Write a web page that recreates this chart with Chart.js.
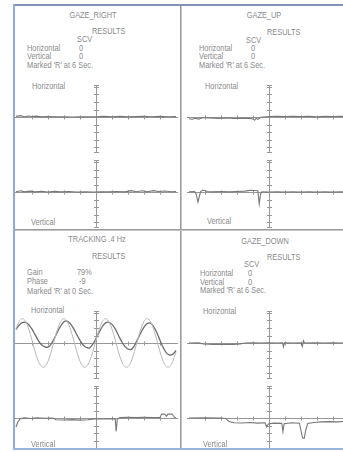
<!DOCTYPE html>
<html>
<head>
<meta charset="utf-8">
<script src="https://cdn.jsdelivr.net/npm/chart.js@4.4.1/dist/chart.umd.min.js"></script>
<style>
  html, body { margin: 0; padding: 0; background: #fff; }
  #page { position: relative; width: 343px; height: 452px; overflow: hidden; background: #fff; }
  .rule { position: absolute; }
  .t { position: absolute; font: 9px "Liberation Sans", Arial, sans-serif;
       line-height: 9px; color: #8a8a8a; white-space: nowrap;
       transform: scaleX(0.82); transform-origin: 0 50%; }
  .c { transform: translateX(-50%) scaleX(0.82); transform-origin: 50% 50%; }
  canvas { position: absolute; }
</style>
</head>
<body>
<div id="page">
  <!-- report frame and panel dividers -->
  <div class="rule" style="left:13px;top:4px;width:330px;height:2px;background:#8394b0"></div>
  <div class="rule" style="left:13px;top:4px;width:2px;height:446px;background:#8eaade"></div>
  <div class="rule" style="left:180px;top:6px;width:1px;height:442px;background:#9c9c9c"></div>
  <div class="rule" style="left:181px;top:6px;width:1px;height:442px;background:#c4c4c4"></div>
  <div class="rule" style="left:15px;top:229px;width:328px;height:1px;background:#9c9c9c"></div>
  <div class="rule" style="left:15px;top:230px;width:328px;height:1px;background:#c4c4c4"></div>

  <!-- GAZE_RIGHT -->
  <div class="t c" style="left:93px;top:10.5px">GAZE_RIGHT</div>
  <div class="t" style="left:92px;top:26.5px">RESULTS</div>
  <div class="t" style="left:77px;top:35px">SCV</div>
  <div class="t" style="left:27px;top:44px">Horizontal</div>
  <div class="t" style="left:79px;top:44px">0</div>
  <div class="t" style="left:27px;top:51.5px">Vertical</div>
  <div class="t" style="left:79px;top:51.5px">0</div>
  <div class="t" style="left:27px;top:61px">Marked 'R' at 6 Sec.</div>
  <div class="t" style="left:32px;top:81.5px">Horizontal</div>
  <div class="t" style="left:31px;top:217.5px">Vertical</div>

  <!-- GAZE_UP -->
  <div class="t c" style="left:263.5px;top:11px">GAZE_UP</div>
  <div class="t" style="left:267px;top:27.5px">RESULTS</div>
  <div class="t" style="left:246px;top:35.5px">SCV</div>
  <div class="t" style="left:199px;top:43.5px">Horizontal</div>
  <div class="t" style="left:251px;top:43.5px">0</div>
  <div class="t" style="left:199px;top:51.5px">Vertical</div>
  <div class="t" style="left:251px;top:51.5px">0</div>
  <div class="t" style="left:199px;top:60.5px">Marked 'R' at 6 Sec.</div>
  <div class="t" style="left:205px;top:81.5px">Horizontal</div>
  <div class="t" style="left:207px;top:216.5px">Vertical</div>

  <!-- TRACKING .4 Hz -->
  <div class="t c" style="left:97px;top:234.5px">TRACKING .4 Hz</div>
  <div class="t" style="left:92px;top:251.5px">RESULTS</div>
  <div class="t" style="left:27px;top:267.5px">Gain</div>
  <div class="t" style="left:77px;top:267.5px">79%</div>
  <div class="t" style="left:27px;top:276.5px">Phase</div>
  <div class="t" style="left:79px;top:276.5px">-9</div>
  <div class="t" style="left:27px;top:286.5px">Marked 'R' at 0 Sec.</div>
  <div class="t" style="left:31px;top:305.5px">Horizontal</div>

  <!-- GAZE_DOWN -->
  <div class="t c" style="left:265px;top:236.5px">GAZE_DOWN</div>
  <div class="t" style="left:267px;top:252.5px">RESULTS</div>
  <div class="t" style="left:244px;top:259.5px">SCV</div>
  <div class="t" style="left:200px;top:268.5px">Horizontal</div>
  <div class="t" style="left:248px;top:268.5px">0</div>
  <div class="t" style="left:200px;top:277.5px">Vertical</div>
  <div class="t" style="left:248px;top:277.5px">0</div>
  <div class="t" style="left:200px;top:285.5px">Marked 'R' at 6 Sec.</div>
  <div class="t" style="left:203px;top:306.5px">Horizontal</div>

  <canvas id="gazeRight" width="164" height="147" style="left:14px;top:81px"></canvas>
  <canvas id="gazeUp" width="164" height="147" style="left:187px;top:81px"></canvas>
  <canvas id="tracking" width="164" height="147" style="left:14px;top:307px"></canvas>
  <canvas id="gazeDown" width="164" height="147" style="left:187px;top:307px"></canvas>

  <div class="rule" style="left:0;top:448px;width:343px;height:4px;background:#fff"></div>
  <div class="rule" style="left:13px;top:448px;width:330px;height:2px;background:#9ab2de"></div>
  <div class="t" style="left:31px;top:440px">Vertical</div>
  <div class="t" style="left:203px;top:440px">Vertical</div>
</div>

<script>
// Time axis (seconds) and eye-position axis (degrees)
const SECOND_TICKS = [1, 2, 3, 4, 6, 7, 8, 9];
const CENTER_SEC = 5;
const DEG_TICKS = [-20, -15, -10, -5, 5, 10, 15, 20];
const DEG_SPAN = [-23.3, 21.3];

// GAZE_RIGHT: [seconds, degrees]
const gazeRightH = [[0,0.4],[0.3,0.9],[0.5,0.2],[0.8,0.7],[1.0,0.3],[1.3,0.6],[1.6,0.1],[2.0,0.3],[2.5,0.1],[3.0,0.2],[3.5,0],[4.0,0.2],[4.5,0.1],[5.0,0.2],[5.5,0.4],[6.0,0.2],[6.5,0.4],[7.0,0.1],[7.5,0.3],[8.0,0.5],[8.5,0.2],[9.0,0.4],[9.5,0.2],[10.0,0.3]];
const gazeRightV = [[0,0.2],[0.3,0.8],[0.5,0.1],[0.9,0.6],[1.2,0.1],[1.6,0.5],[2.0,0],[2.4,0.4],[2.8,0.1],[3.3,0.3],[3.8,0],[4.3,0.2],[4.8,0],[5.3,0.2],[5.8,0.1],[6.3,0.3],[6.8,0.1],[7.2,0.9],[7.5,0.2],[7.9,0.8],[8.2,0.2],[8.6,0.9],[8.9,0.3],[9.3,0.7],[9.7,0.2],[10,0.3]];

// GAZE_UP
const gazeUpH = [[0,-1.2],[0.2,-1.5],[0.4,-0.8],[0.6,-1.4],[0.9,-0.4],[1.3,-0.6],[1.8,-0.9],[2.3,-0.7],[2.8,-1.0],[3.3,-0.8],[3.8,-0.9],[4.0,-1.3],[4.1,-2.2],[4.2,-0.8],[4.3,-1.6],[4.5,-0.2],[5.0,0.3],[5.5,0.5],[6.0,0.3],[6.5,0.5],[7.0,0.3],[7.5,0.4],[8.0,0.2],[8.5,0.4],[9.0,0.3],[9.5,0.4],[10,0.3]];
const gazeUpV = [[0,0.2],[0.35,0.3],[0.45,-1.5],[0.56,-6.7],[0.66,-2.5],[0.72,0.3],[0.85,1.1],[1.0,1.0],[1.15,0.3],[1.5,0.1],[2.0,0.3],[2.5,0.1],[3.0,0.3],[3.5,0.6],[3.8,1.1],[4.1,1.0],[4.3,0.8],[4.39,-7.8],[4.47,-1.5],[4.55,0.2],[5.0,0],[5.5,0.2],[6.0,0],[6.5,0.1],[7.0,0],[7.5,0.2],[8.0,0],[8.5,0.1],[9.0,0],[9.5,0.2],[10,0]];

// TRACKING .4 Hz: sampled every 0.2 s
const trackTime = [0,0.2,0.4,0.6,0.8,1.0,1.2,1.4,1.6,1.8,2.0,2.2,2.4,2.6,2.8,3.0,3.2,3.4,3.6,3.8,4.0,4.2,4.4,4.6,4.8,5.0,5.2,5.4,5.6,5.8,6.0,6.2,6.4,6.6,6.8,7.0,7.2,7.4,7.6,7.8,8.0,8.2,8.4,8.6,8.8,9.0,9.2,9.4,9.6,9.8,10.0];
const trackTarget = [9.3,14.4,16.3,14.4,9.3,2.0,-5.8,-12.2,-15.8,-15.8,-12.2,-5.8,2.0,9.3,14.4,16.3,14.4,9.3,2.0,-5.8,-12.2,-15.8,-15.8,-12.2,-5.8,2.0,9.3,14.4,16.3,14.4,9.3,2.0,-5.8,-12.2,-15.8,-15.8,-12.2,-5.8,2.0,9.3,14.4,16.3,14.4,9.3,2.0,-5.8,-12.2,-15.8,-15.8,-12.2,-5.8];
const trackEye = [9.0,12.0,13.6,13.8,12.2,9.2,5.4,1.6,-1.2,-2.6,-2.8,-0.6,3.2,7.6,11.4,14.2,14.6,12.8,9.6,5.6,1.8,-1.4,-3.0,-3.2,-0.8,3.0,7.2,11.0,13.4,13.8,12.4,9.4,5.2,1.0,-2.2,-4.0,-4.2,-1.8,2.4,6.8,10.6,13.0,13.2,11.0,7.0,1.8,-3.0,-6.6,-8.0,-7.4,-5.0];
const trackV = [[0,-6.0],[0.1,-3.0],[0.25,-0.6],[0.5,0.1],[0.9,-0.3],[1.3,0.2],[1.8,-0.2],[2.3,0],[2.5,-1.2],[3.0,-1.3],[3.5,-1.1],[4.0,-1.4],[4.5,-1.2],[4.9,-0.6],[5.5,-0.7],[6.0,-0.5],[6.2,-0.6],[6.26,-9.0],[6.33,-0.8],[6.5,0.3],[7.0,0.4],[7.5,0.3],[8.0,0.5],[8.5,0.3],[9.0,0.4],[9.1,2.6],[9.3,2.7],[9.4,1.2],[9.5,2.6],[9.75,2.7],[9.9,0.5],[10,0.3]];

// GAZE_DOWN
const gazeDownH = [[0,0],[0.6,0.1],[0.9,-0.7],[1.5,-0.9],[2.2,-0.8],[2.8,-0.9],[3.2,-0.6],[3.5,0],[4.0,0.1],[4.5,0],[5.0,0.1],[5.5,0],[5.85,0.1],[5.9,-2.6],[5.97,0.2],[6.5,0],[7.0,0.1],[7.08,-2.4],[7.15,1.5],[7.22,0],[7.8,0.1],[8.5,0],[9.0,0.1],[9.5,0],[10,0.1]];
const gazeDownV = [[0,0],[1.0,0.1],[2.0,0],[2.3,-0.3],[2.5,-2.4],[2.8,-3.2],[3.3,-3.3],[3.8,-3.0],[4.3,-3.4],[4.75,-3.2],[4.85,-5.8],[4.95,-4.0],[5.3,-3.4],[5.8,-3.6],[5.87,-9.0],[5.95,-3.8],[6.4,-3.2],[6.9,-3.5],[7.0,-8.5],[7.1,-13.2],[7.2,-13.5],[7.3,-8.0],[7.42,-3.6],[7.8,-3.0],[8.3,-2.6],[8.8,-2.4],[9.3,-2.6],[9.8,-2.2],[10,-2.0]];

const AXIS_COLOR = '#979797';
const TRACE_COLOR = '#777777';
const TARGET_COLOR = '#b8b8b8';

const pts = pairs => pairs.map(([t, v]) => ({ x: t, y: v }));
const series = (times, values) => times.map((t, i) => ({ x: t, y: values[i] }));

// Crosshair axes: a baseline per channel with second ticks, and a centre
// degree axis segment per channel.
const crossAxes = {
  id: 'crossAxes',
  beforeDatasetsDraw(chart) {
    const { ctx } = chart;
    const x = chart.scales.x;
    const seg = (x1, y1, x2, y2) => { ctx.beginPath(); ctx.moveTo(x1, y1); ctx.lineTo(x2, y2); ctx.stroke(); };
    ctx.save();
    ctx.strokeStyle = AXIS_COLOR;
    ctx.lineWidth = 1;
    for (const id of ['yH', 'yV']) {
      const y = chart.scales[id];
      const y0 = Math.round(y.getPixelForValue(0)) + 0.5;
      seg(x.left, y0, x.right, y0);
      for (const s of SECOND_TICKS) {
        const px = Math.round(x.getPixelForValue(s)) + 0.5;
        seg(px, y0 - 2, px, y0 + 2);
      }
      const cx = Math.round(x.getPixelForValue(CENTER_SEC)) + 0.5;
      const top = y.getPixelForValue(DEG_SPAN[1]);
      const bot = y.getPixelForValue(DEG_SPAN[0]);
      seg(cx, top, cx, bot);
      for (const d of DEG_TICKS.concat(DEG_SPAN, [0])) {
        const py = Math.round(y.getPixelForValue(d)) + 0.5;
        seg(cx - 2.5, py, cx + 2.5, py);
      }
    }
    ctx.restore();
  }
};

function panel(id, datasets) {
  new Chart(document.getElementById(id), {
    type: 'line',
    data: { datasets },
    options: {
      responsive: false,
      animation: false,
      events: [],
      devicePixelRatio: 1,
      layout: { padding: 0 },
      plugins: { legend: { display: false }, tooltip: { enabled: false } },
      elements: { point: { radius: 0 } },
      scales: {
        x: { type: 'linear', min: -0.125, max: 10.125, display: false },
        yH: { type: 'linear', min: -74, max: 24, display: false },
        yV: { type: 'linear', min: -24, max: 74, display: false }
      }
    },
    plugins: [crossAxes]
  });
}

const trace = (label, data, axis, extra) => Object.assign({
  label, data, yAxisID: axis, borderColor: TRACE_COLOR, borderWidth: 1.1,
  tension: 0, fill: false, clip: false
}, extra || {});

panel('gazeRight', [
  trace('Horizontal', pts(gazeRightH), 'yH'),
  trace('Vertical', pts(gazeRightV), 'yV')
]);
panel('gazeUp', [
  trace('Horizontal', pts(gazeUpH), 'yH'),
  trace('Vertical', pts(gazeUpV), 'yV')
]);
panel('tracking', [
  trace('Target', series(trackTime, trackTarget), 'yH', { borderColor: TARGET_COLOR, borderWidth: 1, tension: 0.35 }),
  trace('Horizontal', series(trackTime, trackEye), 'yH', { borderColor: '#6c6c6c', borderWidth: 1.3, tension: 0.35 }),
  trace('Vertical', pts(trackV), 'yV')
]);
panel('gazeDown', [
  trace('Horizontal', pts(gazeDownH), 'yH'),
  trace('Vertical', pts(gazeDownV), 'yV')
]);
</script>
</body>
</html>
